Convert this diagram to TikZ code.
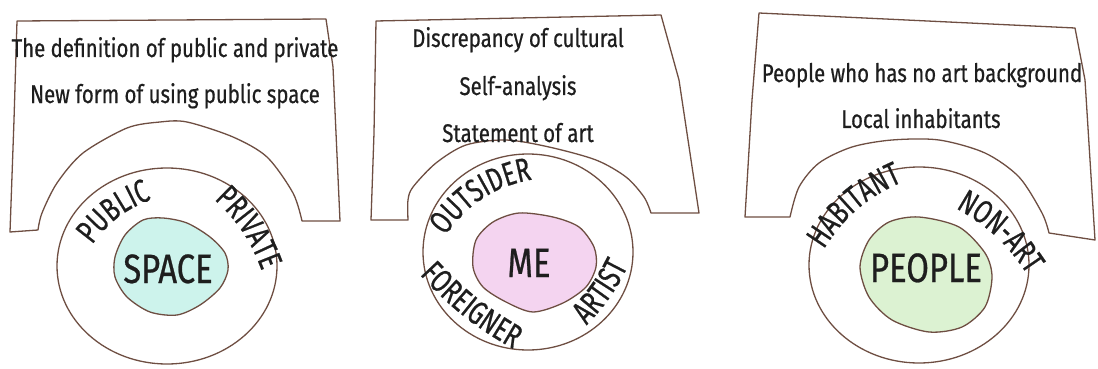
\documentclass[tikz,border=0pt]{standalone}
\usepackage{fontspec}
\setmainfont[FakeStretch=0.8, FakeBold=0.6]{Fira Sans}
\newfontfamily\ringfamily[FakeStretch=0.72, FakeBold=0.6]{Fira Sans}
\usetikzlibrary{shapes.geometric, decorations.text}

\definecolor{skLine}{HTML}{6E4E42}
\definecolor{skInk}{HTML}{1E1E1E}
\definecolor{skSpace}{HTML}{CDF3EC}
\definecolor{skMe}{HTML}{F4D4F0}
\definecolor{skPeople}{HTML}{DCF2D2}

\newcommand{\topicfont}{\fontsize{25.5}{30}\selectfont}
\newcommand{\ringfont}{\ringfamily\fontsize{33}{36}\selectfont}
\newcommand{\corefont}{\fontsize{41}{44}\selectfont}

\tikzset{
  sheet/.style={draw=skLine, line width=1.3pt, fill=white, line join=round},
  ring/.style={draw=skLine, line width=1.3pt, ellipse, inner sep=0pt},
  blob/.style={draw=skLine, line width=1.3pt},
  corelabel/.style={font=\corefont, text=skInk, inner sep=0pt, anchor=base},
  topic/.style={font=\topicfont, text=skInk, inner sep=0pt, anchor=base},
  ringtext/.style={decorate, decoration={text along path, text align=center,
      text color=skInk, text={|\ringfont|#1}}}
}

\begin{document}
\begin{tikzpicture}[x=1pt, y=-1pt]
  \useasboundingbox (0,0) rectangle (1098,369);

  % sheets with the arch cut out
  \draw[sheet] (17,21) -- (326,19) -- (333,67) -- (340,221) -- (302,221)
    -- plot[smooth] coordinates {(302,221) (293,193) (267,157) (233,137) (187,122)
       (160,122) (127,128) (83,153) (57,183) (42,213) (38,230)}
    -- (10,232) -- (14,120) -- cycle;
  \draw[sheet] (376,21) -- (661,15) -- (679,80) -- (699,213) -- (651,213)
    -- plot[smooth] coordinates {(651,213) (644,197) (626,177) (596,160) (549,147)
       (506,140) (466,145) (436,163) (413,187) (408,200) (408,220)}
    -- (371,220) -- (374,133) -- cycle;
  \draw[sheet] (759,13) -- (1075,28) -- (1085,80) -- (1095,240) -- (1049,233)
    -- plot[smooth] coordinates {(1049,233) (1042,213) (1019,177) (985,153) (939,140)
       (892,140) (852,147) (819,163) (799,187) (790,217)}
    -- (745,217) -- (752,100) -- cycle;

  % topics
  \node[topic] (t1a) at (175,57) {The definition of public and private};
  \node[topic] (t1b) at (175,103) {New form of using public space};
  \node[topic] (t2a) at (518,47) {Discrepancy of cultural};
  \node[topic] (t2b) at (518,95) {Self-analysis};
  \node[topic] (t2c) at (518,142) {Statement of art};
  \node[topic] (t3a) at (922,82) {People who has no art background};
  \node[topic] (t3b) at (921,128) {Local inhabitants};

  % rings
  \node[ring, minimum width=220pt, minimum height=196pt] (ring1) at (167,266) {};
  \node[ring, minimum width=210pt, minimum height=196pt] (ring2) at (528,252) {};
  \node[ring, minimum width=220pt, minimum height=196pt] (ring3) at (919,265) {};

  % cores
  \draw[blob, fill=skSpace] plot[smooth cycle] coordinates {(143,220) (163,218)
    (187,223) (210,237) (225,253) (228,270) (220,288) (200,305) (177,315)
    (150,312) (127,297) (115,277) (115,257) (125,235)};
  \draw[blob, fill=skMe] plot[smooth cycle] coordinates {(476,240) (493,222)
    (519,213) (553,217) (579,227) (594,247) (596,267) (586,287) (563,303)
    (533,312) (506,302) (483,287) (473,267)};
  \draw[blob, fill=skPeople] plot[smooth cycle] coordinates {(919,217) (959,227)
    (985,253) (992,277) (985,307) (962,327) (929,332) (892,320) (869,297)
    (860,267) (869,240) (889,222)};
  \node[corelabel] (space) at (168,283) {SPACE};
  \node[corelabel] (me) at (529,277) {ME};
  \node[corelabel] (people) at (926,282) {PEOPLE};

  % ring words
  \coordinate (pub-a) at (86,254);   \coordinate (pub-b) at (162,196);
  \coordinate (pri-a) at (207,193);  \coordinate (pri-b) at (265,280);
  \coordinate (out-a) at (440,244);  \coordinate (out-b) at (542,178);
  \coordinate (for-a) at (410,264);  \coordinate (for-b) at (526,356);
  \coordinate (art-a) at (580,332);  \coordinate (art-b) at (632,258);
  \coordinate (hab-a) at (817,261);  \coordinate (hab-b) at (915,177);
  \coordinate (non-a) at (948,204);  \coordinate (non-b) at (1032,282);
  \path[ringtext={PUBLIC}] (pub-a) to[bend left=20] (pub-b);
  \path[ringtext={PRIVATE}] (pri-a) to[bend left=15] (pri-b);
  \path[ringtext={OUTSIDER}] (out-a) to[bend left=25] (out-b);
  \path[ringtext={FOREIGNER}] (for-a) to[bend right=10] (for-b);
  \path[ringtext={ARTIST}] (art-a) to[bend right=10] (art-b);
  \path[ringtext={HABITANT}] (hab-a) to[bend left=20] (hab-b);
  \path[ringtext={NON-ART}] (non-a) to[bend left=15] (non-b);
\end{tikzpicture}
\end{document}
